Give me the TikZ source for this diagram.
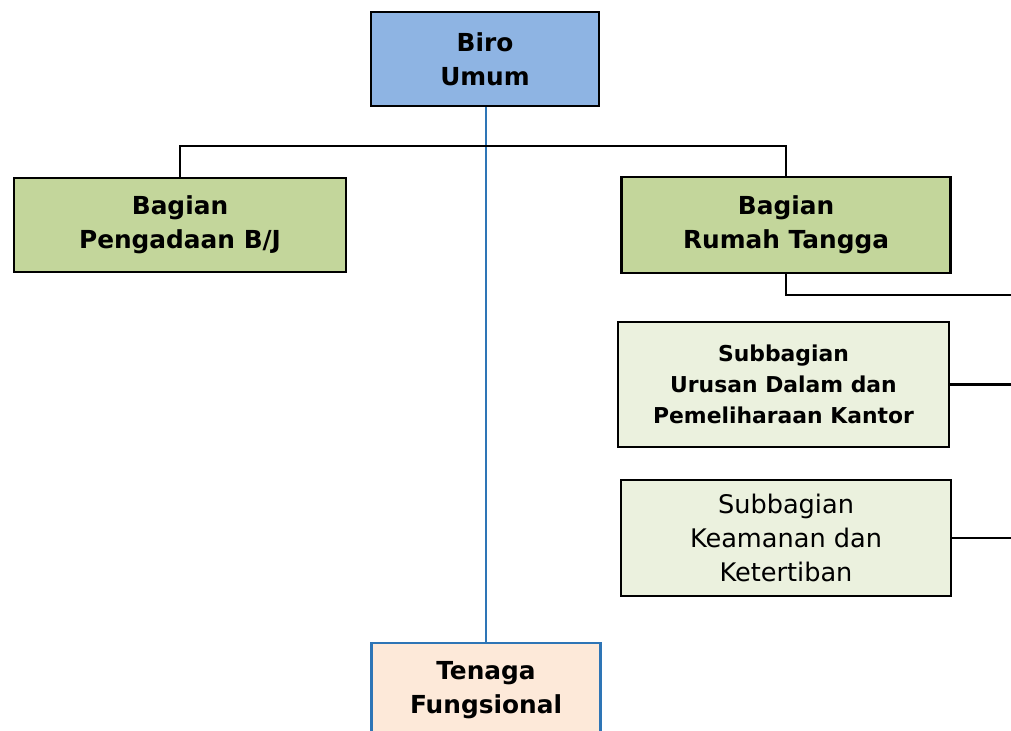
\documentclass[tikz,border=0pt]{standalone}
\usepackage{fontspec}
\setmainfont{DejaVu Sans}
\definecolor{biro}{HTML}{8EB4E3}
\definecolor{bagian}{HTML}{C3D69B}
\definecolor{sub}{HTML}{EBF1DE}
\definecolor{tenaga}{HTML}{FDE9D9}
\definecolor{bluel}{HTML}{2E75B6}
\begin{document}
\begin{tikzpicture}[x=0.75pt,y=-0.75pt,
  box/.style={draw=black, line width=2pt, rectangle, align=center, inner sep=0pt, font=\bfseries\fontsize{18.6}{25.5}\selectfont},
  subbox/.style={box, fill=sub, font=\bfseries\fontsize{16.4}{23.2}\selectfont},
  conn/.style={draw=black, line width=2pt},
  bconn/.style={draw=bluel, line width=2pt}]
\useasboundingbox (0,0) rectangle (1011,731);
\clip (0,0) rectangle (1011,731);
\fill[white] (0,0) rectangle (1011,731);
\node[box, fill=biro, minimum width=228*0.75pt, minimum height=94*0.75pt] (biro) at (485,59) {Biro\\Umum};
\node[box, fill=bagian, minimum width=332*0.75pt, minimum height=94*0.75pt] (bpbj) at (180,225) {Bagian\\Pengadaan B/J};
\node[box, fill=bagian, minimum width=329*0.75pt, minimum height=96*0.75pt] (brt) at (786,225) {Bagian\\Rumah Tangga};
\node[subbox, minimum width=331*0.75pt, minimum height=125*0.75pt] (sud) at (783.5,384.5) {Subbagian\\Urusan Dalam dan\\Pemeliharaan Kantor};
\node[subbox, font=\fontsize{19.2}{25.5}\selectfont, minimum width=330*0.75pt, minimum height=116*0.75pt] (skk) at (786,538) {Subbagian\\Keamanan dan\\Ketertiban};
\node[box, draw=bluel, fill=tenaga, minimum width=229*0.75pt, minimum height=94*0.75pt] (tf) at (486,690) {Tenaga\\Fungsional};
\coordinate (redge) at (1015,0);
\draw[bconn] (biro.south -| tf.north) -- (tf.north);
\draw[conn] (bpbj.north) |- (biro.south |- 0,146) -| (brt.north);
\draw[conn] (brt.south) |- (0,295 -| redge);
\draw[conn] (sud.east) -- (sud.east -| redge);
\draw[conn] (skk.east) -- (skk.east -| redge);
\end{tikzpicture}
\end{document}
